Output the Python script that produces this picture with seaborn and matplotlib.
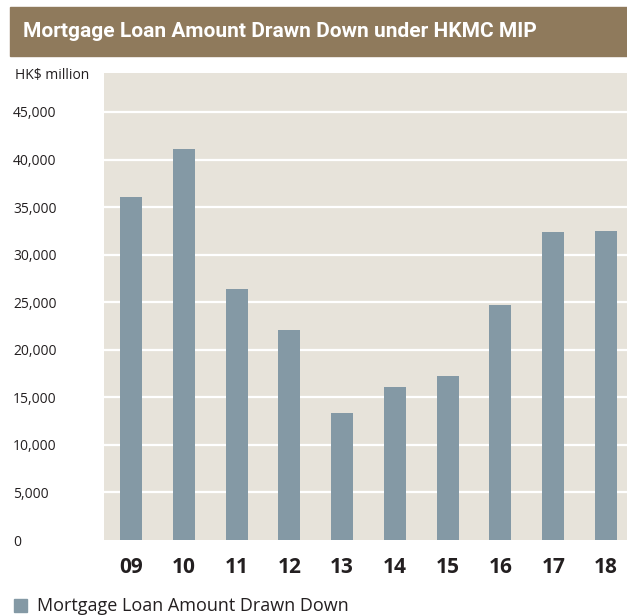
import matplotlib
matplotlib.use("Agg")
import matplotlib.pyplot as plt
import seaborn as sns
import pandas as pd
from matplotlib.patches import Rectangle

years = ["09", "10", "11", "12", "13", "14", "15", "16", "17", "18"]
amounts = [36050, 41100, 26400, 22080, 13350, 16100, 17250, 24700, 32380, 32480]
yticks = [0, 5000, 10000, 15000, 20000, 25000, 30000, 35000, 40000, 45000]
ytick_labels = ["0", "5,000", "10,000", "15,000", "20,000", "25,000", "30,000", "35,000", "40,000", "45,000"]
title = "Mortgage Loan Amount Drawn Down under HKMC MIP"
unit = "HK$ million"
legend_label = "Mortgage Loan Amount Drawn Down"

BAR = "#8499a5"
BG = "#e7e3da"
TITLE_BG = "#8f7a5c"
TXT = "#231f20"

sns.set_theme(style="white")
plt.rcParams["font.family"] = ["Open Sans", "DejaVu Sans"]

W, H = 627, 616
fig = plt.figure(figsize=(W / 100, H / 100), dpi=100)
ax = fig.add_axes([104 / W, (H - 540) / H, (W - 104) / W, (540 - 73) / H])
ax.set_facecolor(BG)

df = pd.DataFrame({"year": years, "amount": amounts})
sns.barplot(data=df, x="year", y="amount", color=BAR, width=0.417, saturation=1,
            ax=ax, zorder=3, legend=False, edgecolor="none", linewidth=0)

ax.set_ylim(0, 49100)
ax.set_xlim(-0.512, 9.398)
ax.set_yticks(yticks)
ax.set_yticklabels(ytick_labels, fontsize=10, color=TXT, ha="left")
ax.tick_params(axis="y", length=0, pad=(104 - 13) * 0.72)
ax.tick_params(axis="x", length=0, pad=12)
for lab in ax.get_xticklabels():
    lab.set_fontsize(15)
    lab.set_fontweight("bold")
    lab.set_color(TXT)
ax.set_xlabel("")
ax.set_ylabel("")
for y in yticks[1:]:
    ax.axhline(y, color="white", lw=1.6, zorder=2)
for s in ax.spines.values():
    s.set_visible(False)

# title bar
fig.patches.append(Rectangle((10 / W, (H - 56) / H), (W - 10) / W, 49 / H,
                             transform=fig.transFigure, color=TITLE_BG, zorder=0))
fig.text(23 / W, (H - 31.5) / H, title, color="white", fontsize=15,
         fontweight="bold", va="center", ha="left", family=["Roboto", "DejaVu Sans"])

fig.text(15 / W, (H - 75) / H, unit, fontsize=10, color=TXT, va="center", ha="left")

# legend
fig.patches.append(Rectangle((14 / W, (H - 612) / H), 13 / W, 13 / H,
                             transform=fig.transFigure, color=BAR))
fig.text(37 / W, (H - 611) / H, legend_label, fontsize=13, color=TXT,
         va="baseline", ha="left")

fig.savefig("out.png", dpi=100)
